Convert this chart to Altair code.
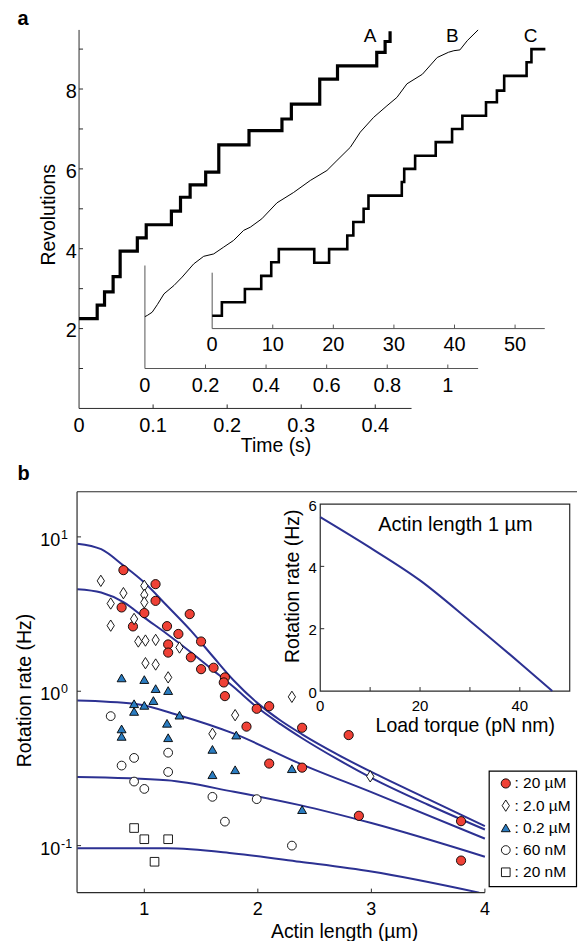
import altair as alt
import pandas as pd

FONT = "Liberation Sans"
AXC = "#2b2b2b"
GRY = "#555555"
NAVY = "#2c3192"
RED = "#ef4136"
BLUE = "#2b7cc0"
TICK_PX = 4

# ======================= panel a : revolutions vs time =======================
REV_DOMAIN = [0, 9.48]
A_X_DOMAIN = [0, 0.449]
B_X_DOMAIN = [0, 1.10]
C_X_DOMAIN = [0, 54.9]
PA_W, PA_H = 470, 379.3
RANGE_A = [2, 335.2]
RANGE_B = [68, 401.9]
RANGE_C = [135.4, 468.7]

A_T = [0.0, 0.0245, 0.0344, 0.046, 0.0555, 0.0787, 0.0907, 0.1247, 0.137, 0.150,
       0.171, 0.1887, 0.2295, 0.274, 0.2867, 0.325, 0.349, 0.402, 0.4133, 0.420]
A_REV = [2.25, 2.59, 2.92, 3.30, 3.94, 4.27, 4.60, 4.94, 5.29, 5.60,
         5.92, 6.60, 6.96, 7.25, 7.62, 8.25, 8.58, 8.92, 9.19, 9.45]

B_T = [0.0, 0.008, 0.024, 0.041, 0.063, 0.096, 0.123, 0.161, 0.194, 0.227, 0.26,
       0.293, 0.326, 0.348, 0.386, 0.436, 0.491, 0.546, 0.601, 0.634, 0.678, 0.711,
       0.755, 0.799, 0.832, 0.865, 0.916, 0.965, 1.002, 1.02, 1.04, 1.064, 1.10]
B_REV = [2.30, 2.33, 2.41, 2.60, 2.87, 3.08, 3.29, 3.62, 3.81, 3.87, 4.04,
         4.21, 4.46, 4.54, 4.75, 5.15, 5.41, 5.71, 5.96, 6.21, 6.54, 6.92,
         7.29, 7.58, 7.79, 8.13, 8.37, 8.79, 8.92, 8.96, 8.98, 9.21, 9.48]

C_T = [0, 1.6, 5.4, 8.1, 9.75, 11.0, 16.85, 19.3, 22.3, 23.3, 25.0, 25.8, 31.3,
       31.7, 33.5, 36.9, 39.6, 41.3, 45.2, 47.0, 48.2, 51.9, 52.7, 55.0]
C_REV = [2.32, 2.66, 2.99, 3.32, 3.66, 3.99, 3.65, 3.99, 4.33, 4.67, 5.0, 5.33, 5.67,
         6.0, 6.33, 6.67, 7.0, 7.33, 7.67, 7.96, 8.33, 8.67, 9.0, 9.0]

B_YAXIS = [1.0, 3.58]
C_YAXIS = [2.0, 3.40]

A_XTICKS = [0, 0.1, 0.2, 0.3, 0.4]
A_XLABELS = ["0", "0.1", "0.2", "0.3", "0.4"]
A_YTICKS = [1, 2, 3, 4, 5, 6, 7, 8, 9]
A_YLABEL_VALS = [2, 4, 6, 8]
A_YLABELS = ["2", "4", "6", "8"]
B_XTICKS = [0, 0.2, 0.4, 0.6, 0.8, 1]
B_XLABELS = ["0", "0.2", "0.4", "0.6", "0.8", "1"]
C_XTICKS = [0, 10, 20, 30, 40, 50]
C_XLABELS = ["0", "10", "20", "30", "40", "50"]

LETTERS = ["A", "B", "C"]
LETTER_T = [0.393, 1.0145, 52.54]
LETTER_REV = [9.33, 9.33, 9.33]

A_XTITLE = ("Time (s)", 0.266)          # text, position on time axis
A_YTITLE = ("Revolutions", 4.85)        # text, position on revolutions axis

# ================ panel b : rotation rate vs actin length ================
PB_W, PB_H = 501.0, 401.7
XB_DOMAIN = [0.4076, 0.4076 + PB_W / 113.77]
YB_DOMAIN = [0.0496, 19.6]
XB_AXIS_END = 4.0
B_XTICKS_P = [1, 2, 3, 4]
B_XLABELS_P = ["1", "2", "3", "4"]
B_YTICKS_P = [0.1, 1, 10]
B_YLABEL_BASE = ["10", "10", "10"]
B_YLABEL_EXP = ["-1", "0", "1"]
B_XTITLE = ("Actin length (\u00b5m)", 2.764)
B_YTITLE = ("Rotation rate (Hz)", 1.01)

SERIES = [": 20 \u00b5M", ": 2.0 \u00b5M", ": 0.2 \u00b5M", ": 60 nM", ": 20 nM"]
SHAPES = ["circle", "M0,-1.25L0.8,0L0,1.25L-0.8,0Z", "triangle-up", "circle", "square"]
FILLS = [RED, "white", BLUE, "white", "white"]
SIZES = [85, 75, 90, 85, 50]

R20_L = [0.816, 1.099, 1.099, 0.80, 1.0, 1.40, 0.90, 1.20, 1.30, 1.50, 1.21, 1.21, 1.41, 1.50,
         1.61, 1.71, 1.70, 1.71, 1.99, 2.10, 1.90, 2.10, 2.39, 2.39, 2.80, 2.89, 3.79, 3.79]
R20_V = [6.09, 4.94, 3.85, 3.49, 3.21, 3.16, 2.63, 2.64, 2.35, 2.10, 2.01, 1.78, 1.66, 1.39,
         1.42, 1.23, 1.14, 0.93, 0.77, 0.80, 0.59, 0.34, 0.58, 0.32, 0.52, 0.156, 0.144, 0.080]
D2_L = [0.617, 1.0, 0.816, 1.0, 0.704, 1.0, 0.704, 0.91, 0.947, 1.01, 1.10, 1.31, 1.01, 1.10,
        1.21, 2.30, 1.80, 1.60, 2.99]
D2_V = [5.19, 4.82, 4.32, 4.21, 3.70, 3.76, 2.66, 2.94, 2.10, 2.13, 2.15, 1.92, 1.52, 1.49,
        1.23, 0.92, 0.70, 0.53, 0.281]
T02_L = [0.80, 1.0, 1.10, 1.21, 1.08, 0.91, 1.0, 0.91, 1.31, 0.80, 0.80, 1.20, 1.21, 1.81,
         1.60, 1.60, 1.80, 2.30, 2.39]
T02_V = [1.22, 1.19, 1.04, 1.01, 0.87, 0.83, 0.81, 0.74, 0.70, 0.57, 0.51, 0.62, 0.50, 0.52,
         0.42, 0.288, 0.31, 0.315, 0.171]
C60_L = [0.704, 0.91, 0.80, 1.21, 1.21, 0.91, 1.0, 1.60, 1.99, 1.71, 2.30]
C60_V = [0.69, 0.37, 0.33, 0.40, 0.30, 0.26, 0.233, 0.207, 0.20, 0.143, 0.10]
S20_L = [0.91, 1.0, 1.21, 1.09]
S20_V = [0.130, 0.110, 0.110, 0.0786]

CUR1_L = [0.41, 0.62, 0.82, 1.0, 1.2, 1.41, 1.61, 1.79, 1.99, 2.2, 2.39, 2.7, 3.0, 3.5, 4.0]
CUR1_V = [9.04, 8.32, 6.49, 5.06, 3.58, 2.47, 1.66, 1.17, 0.847, 0.646, 0.526, 0.39, 0.30, 0.20, 0.1336]
CUR2_L = [0.41, 0.62, 0.82, 1.0, 1.2, 1.41, 1.61, 1.79, 1.99, 2.2, 2.39, 2.7, 3.0, 3.5, 4.0]
CUR2_V = [4.58, 4.36, 3.76, 3.0, 2.35, 1.79, 1.36, 1.06, 0.79, 0.612, 0.496, 0.363, 0.275, 0.184, 0.127]
CUR3_L = [0.41, 0.91, 1.31, 1.79, 2.37, 3.0, 4.0]
CUR3_V = [0.871, 0.829, 0.697, 0.531, 0.34, 0.222, 0.111]
CUR4_L = [0.41, 1.2, 1.79, 2.37, 3.0, 4.0]
CUR4_V = [0.278, 0.265, 0.223, 0.183, 0.140, 0.0847]
CUR5_L = [0.41, 1.2, 1.79, 2.37, 3.0, 3.95]
CUR5_V = [0.096, 0.096, 0.089, 0.0786, 0.068, 0.0496]

# inset
INS_X_DOMAIN = [0, 50]
INS_Y_DOMAIN = [0, 6]
INS_RANGE_X = [243.7, 493.7]
INS_RANGE_Y = [199.7, 12.3]
INS_XTICKS = [10, 20, 30, 40]
INS_XLABEL_VALS = [0, 20, 40]
INS_XLABELS = ["0", "20", "40"]
INS_YTICKS = [2, 4]
INS_YLABEL_VALS = [0, 2, 4, 6]
INS_YLABELS = ["0", "2", "4", "6"]
INS_TORQUE = [0, 10, 20, 30, 40, 46.5]
INS_RATE = [5.58, 4.6, 3.55, 2.25, 0.9, 0.0]
INS_TITLE = ("Actin length 1 \u00b5m", 27.1, 5.13)
INS_XTITLE = ("Load torque (pN nm)", 29.06)
INS_YTITLE = ("Rotation rate (Hz)", 3.36)

# legend box (own little coordinate system: column fraction / row index)
LEG_X_DOMAIN = [0, 1]
LEG_Y_DOMAIN = [-0.553, 4.647]
LEG_RANGE_X = [413, 500.5]
LEG_RANGE_Y = [280, 395.7]
LEG_ROWS = [0, 1, 2, 3, 4]
LEG_SYMBOL_X = 0.19
LEG_TEXT_X = 0.29

PANEL_LETTERS = ["a", "b"]


# ----------------------------- helpers -----------------------------
def hline(xs, ys, x, x2, y, color=AXC, width=1.0):
    df = pd.DataFrame({"x": x, "x2": x2, "y": y})
    return alt.Chart(df).mark_rule(color=color, strokeWidth=width).encode(
        x=alt.X("x:Q", scale=xs, axis=None), x2="x2:Q", y=alt.Y("y:Q", scale=ys, axis=None))


def vline(xs, ys, x, y, y2, color=AXC, width=1.0):
    df = pd.DataFrame({"x": x, "y": y, "y2": y2})
    return alt.Chart(df).mark_rule(color=color, strokeWidth=width).encode(
        x=alt.X("x:Q", scale=xs, axis=None), y=alt.Y("y:Q", scale=ys, axis=None), y2="y2:Q")


def texts(xs, ys, x, y, t, **kw):
    df = pd.DataFrame({"x": x, "y": y, "t": t})
    base = dict(font=FONT, color="black")
    base.update(kw)
    return alt.Chart(df).mark_text(**base).encode(
        x=alt.X("x:Q", scale=xs, axis=None), y=alt.Y("y:Q", scale=ys, axis=None), text="t:N")


# ============================== panel a ==============================
SY_A = alt.Scale(domain=REV_DOMAIN, nice=False, zero=False)
SX_A = alt.Scale(domain=A_X_DOMAIN, range=RANGE_A, nice=False, zero=False)
SX_B = alt.Scale(domain=B_X_DOMAIN, range=RANGE_B, nice=False, zero=False)
SX_C = alt.Scale(domain=C_X_DOMAIN, range=RANGE_C, nice=False, zero=False)
px_rev = PA_H / (REV_DOMAIN[1] - REV_DOMAIN[0])
px_s = (RANGE_A[1] - RANGE_A[0]) / (A_X_DOMAIN[1] - A_X_DOMAIN[0])
tick_rev = TICK_PX / px_rev
n = len

lineA = alt.Chart(pd.DataFrame({"t": A_T, "rev": A_REV})).mark_line(
    color="black", strokeWidth=3.2, interpolate="step-after").encode(
    x=alt.X("t:Q", scale=SX_A, axis=None), y=alt.Y("rev:Q", scale=SY_A, axis=None))
layerA = alt.layer(
    hline(SX_A, SY_A, [A_X_DOMAIN[0]], [A_X_DOMAIN[1]], [REV_DOMAIN[0]]),
    vline(SX_A, SY_A, [A_X_DOMAIN[0]], [REV_DOMAIN[0]], [REV_DOMAIN[1]]),
    vline(SX_A, SY_A, A_XTICKS[1:], [REV_DOMAIN[0]] * 4, [REV_DOMAIN[0] + tick_rev] * 4),
    hline(SX_A, SY_A, [A_X_DOMAIN[0]] * n(A_YTICKS), [A_X_DOMAIN[0] + TICK_PX / px_s] * n(A_YTICKS), A_YTICKS),
    texts(SX_A, SY_A, A_XTICKS, [REV_DOMAIN[0]] * n(A_XTICKS), A_XLABELS, fontSize=20,
          baseline="middle", align="center", dy=17.2),
    texts(SX_A, SY_A, [A_X_DOMAIN[0]] * n(A_YLABEL_VALS), A_YLABEL_VALS, A_YLABELS, fontSize=20,
          baseline="middle", align="right", dx=-2.3, dy=2.9),
    texts(SX_A, SY_A, [A_XTITLE[1]], [REV_DOMAIN[0]], [A_XTITLE[0]], fontSize=19.5,
          baseline="middle", align="center", dy=37.4),
    texts(SX_A, SY_A, [A_X_DOMAIN[0]], [A_YTITLE[1]], [A_YTITLE[0]], fontSize=19.5,
          baseline="middle", align="center", angle=270, dy=-30.5),
    texts(SX_A, SY_A, [A_X_DOMAIN[0]], [REV_DOMAIN[1]], PANEL_LETTERS[:1], fontSize=20, fontWeight="bold",
          baseline="alphabetic", align="left", dx=-61.6, dy=-5),
    lineA,
    texts(SX_A, SY_A, LETTER_T[:1], LETTER_REV[:1], LETTERS[:1], fontSize=19, baseline="middle"),
)

lineB = alt.Chart(pd.DataFrame({"t": B_T, "rev": B_REV})).mark_line(color="black", strokeWidth=1).encode(
    x=alt.X("t:Q", scale=SX_B, axis=None), y=alt.Y("rev:Q", scale=SY_A, axis=None))
layerB = alt.layer(
    vline(SX_B, SY_A, [B_X_DOMAIN[0]], [B_YAXIS[0]], [B_YAXIS[1]], GRY),
    hline(SX_B, SY_A, [B_X_DOMAIN[0]], [B_X_DOMAIN[1]], [B_YAXIS[0]], GRY),
    vline(SX_B, SY_A, B_XTICKS[1:], [B_YAXIS[0]] * 5, [B_YAXIS[0] + tick_rev] * 5, GRY),
    texts(SX_B, SY_A, B_XTICKS, [B_YAXIS[0]] * n(B_XTICKS), B_XLABELS, fontSize=20,
          baseline="middle", align="center", dy=17.1),
    lineB,
    texts(SX_B, SY_A, LETTER_T[1:2], LETTER_REV[1:2], LETTERS[1:2], fontSize=19, baseline="middle"),
)

lineC = alt.Chart(pd.DataFrame({"t": C_T, "rev": C_REV})).mark_line(
    color="black", strokeWidth=2.6, interpolate="step-after").encode(
    x=alt.X("t:Q", scale=SX_C, axis=None), y=alt.Y("rev:Q", scale=SY_A, axis=None))
layerC = alt.layer(
    vline(SX_C, SY_A, [C_X_DOMAIN[0]], [C_YAXIS[0]], [C_YAXIS[1]], GRY),
    hline(SX_C, SY_A, [C_X_DOMAIN[0]], [C_X_DOMAIN[1]], [C_YAXIS[0]], GRY),
    vline(SX_C, SY_A, C_XTICKS[1:], [C_YAXIS[0]] * 5, [C_YAXIS[0] + tick_rev] * 5, GRY),
    texts(SX_C, SY_A, C_XTICKS, [C_YAXIS[0]] * n(C_XTICKS), C_XLABELS, fontSize=20,
          baseline="middle", align="center", dy=16.9),
    lineC,
    texts(SX_C, SY_A, LETTER_T[2:], LETTER_REV[2:], LETTERS[2:], fontSize=19, baseline="middle"),
)

panel_a = alt.layer(layerA, layerB, layerC).resolve_scale(x="independent").properties(
    width=PA_W, height=PA_H)

# ============================== panel b ==============================
SX_P = alt.Scale(domain=XB_DOMAIN, nice=False, zero=False)
SY_P = alt.Scale(type="log", domain=YB_DOMAIN, nice=False)
px_L = PB_W / (XB_DOMAIN[1] - XB_DOMAIN[0])
px_dec = 154.8
SHAPE_S = alt.Scale(domain=SERIES, range=SHAPES)
FILL_S = alt.Scale(domain=SERIES, range=FILLS)
SIZE_S = alt.Scale(domain=SERIES, range=SIZES)

rows = []
for name, Ls, Vs in [(SERIES[0], R20_L, R20_V), (SERIES[1], D2_L, D2_V), (SERIES[2], T02_L, T02_V),
                     (SERIES[3], C60_L, C60_V), (SERIES[4], S20_L, S20_V)]:
    for L, v in zip(Ls, Vs):
        rows.append({"x": L, "y": v, "series": name})
df_pts = pd.DataFrame(rows)

crow = []
for i, (Ls, Vs) in enumerate([(CUR1_L, CUR1_V), (CUR2_L, CUR2_V), (CUR3_L, CUR3_V),
                              (CUR4_L, CUR4_V), (CUR5_L, CUR5_V)]):
    for L, v in zip(Ls, Vs):
        crow.append({"x": L, "y": v, "curve": i})
df_cur = pd.DataFrame(crow)

curves = alt.Chart(df_cur).mark_line(color=NAVY, strokeWidth=2, interpolate="monotone", clip=True).encode(
    x=alt.X("x:Q", scale=SX_P, axis=None), y=alt.Y("y:Q", scale=SY_P, axis=None), detail="curve:N")
points = alt.Chart(df_pts).mark_point(filled=True, stroke="black", strokeWidth=0.9, opacity=1,
                                      fillOpacity=1).encode(
    x=alt.X("x:Q", scale=SX_P, axis=None), y=alt.Y("y:Q", scale=SY_P, axis=None),
    shape=alt.Shape("series:N", scale=SHAPE_S, legend=None),
    fill=alt.Fill("series:N", scale=FILL_S, legend=None),
    size=alt.Size("series:N", scale=SIZE_S, legend=None))
ytick_hi = YB_DOMAIN[0] * 10 ** (TICK_PX / px_dec)
main_b = alt.layer(
    curves, points,
    vline(SX_P, SY_P, [XB_DOMAIN[0]], [YB_DOMAIN[0]], [YB_DOMAIN[1]], AXC, 1.2),
    hline(SX_P, SY_P, [XB_DOMAIN[0], XB_DOMAIN[0]], [XB_DOMAIN[1], XB_AXIS_END],
          [YB_DOMAIN[1], YB_DOMAIN[0]], AXC, 1.2),
    vline(SX_P, SY_P, B_XTICKS_P, [YB_DOMAIN[0]] * 4, [ytick_hi] * 4),
    hline(SX_P, SY_P, [XB_DOMAIN[0]] * 3, [XB_DOMAIN[0] + TICK_PX / px_L] * 3, B_YTICKS_P),
    texts(SX_P, SY_P, B_XTICKS_P, [YB_DOMAIN[0]] * 4, B_XLABELS_P, fontSize=18,
          baseline="middle", align="center", dy=17.1),
    texts(SX_P, SY_P, [XB_DOMAIN[0]] * 3, B_YTICKS_P, B_YLABEL_BASE, fontSize=18,
          baseline="middle", align="right", dx=-16.8, dy=4),
    texts(SX_P, SY_P, [XB_DOMAIN[0]] * 3, B_YTICKS_P, B_YLABEL_EXP, fontSize=12.5,
          baseline="middle", align="left", dx=-16, dy=-2),
    texts(SX_P, SY_P, [B_XTITLE[1]], [YB_DOMAIN[0]], [B_XTITLE[0]], fontSize=19.5,
          baseline="middle", align="center", dy=39),
    texts(SX_P, SY_P, [XB_DOMAIN[0]], [B_YTITLE[1]], [B_YTITLE[0]], fontSize=19.5,
          baseline="middle", align="center", angle=270, dy=-52.1),
    texts(SX_P, SY_P, [XB_DOMAIN[0]], [YB_DOMAIN[1]], PANEL_LETTERS[1:], fontSize=20, fontWeight="bold",
          baseline="alphabetic", align="left", dx=-59.6, dy=-12),
)

SX_I = alt.Scale(domain=INS_X_DOMAIN, range=INS_RANGE_X, nice=False, zero=False)
SY_I = alt.Scale(domain=INS_Y_DOMAIN, range=INS_RANGE_Y, nice=False, zero=False)
px_ix = (INS_RANGE_X[1] - INS_RANGE_X[0]) / (INS_X_DOMAIN[1] - INS_X_DOMAIN[0])
px_iy = (INS_RANGE_Y[0] - INS_RANGE_Y[1]) / (INS_Y_DOMAIN[1] - INS_Y_DOMAIN[0])

in_frame = alt.Chart(pd.DataFrame({"x": [INS_X_DOMAIN[0]], "x2": [INS_X_DOMAIN[1]],
                                   "y": [INS_Y_DOMAIN[0]], "y2": [INS_Y_DOMAIN[1]]})).mark_rect(
    fill="white", stroke=AXC, strokeWidth=1.2).encode(
    x=alt.X("x:Q", scale=SX_I, axis=None), x2="x2:Q", y=alt.Y("y:Q", scale=SY_I, axis=None), y2="y2:Q")
in_line = alt.Chart(pd.DataFrame({"x": INS_TORQUE, "y": INS_RATE})).mark_line(
    color=NAVY, strokeWidth=2, interpolate="monotone").encode(
    x=alt.X("x:Q", scale=SX_I, axis=None), y=alt.Y("y:Q", scale=SY_I, axis=None))
inset = alt.layer(
    in_frame,
    vline(SX_I, SY_I, INS_XTICKS, [INS_Y_DOMAIN[0]] * 4, [INS_Y_DOMAIN[0] + TICK_PX / px_iy] * 4),
    hline(SX_I, SY_I, [INS_X_DOMAIN[0]] * 2, [INS_X_DOMAIN[0] + TICK_PX / px_ix] * 2, INS_YTICKS),
    in_line,
    texts(SX_I, SY_I, [INS_TITLE[1]], [INS_TITLE[2]], [INS_TITLE[0]], fontSize=20,
          baseline="alphabetic", align="center"),
    texts(SX_I, SY_I, INS_XLABEL_VALS, [INS_Y_DOMAIN[0]] * 3, INS_XLABELS, fontSize=15,
          baseline="middle", align="center", dy=15.2),
    texts(SX_I, SY_I, [INS_X_DOMAIN[0]] * 4, INS_YLABEL_VALS, INS_YLABELS, fontSize=15,
          baseline="middle", align="right", dx=-3.3, dy=1.5),
    texts(SX_I, SY_I, [INS_XTITLE[1]], [INS_Y_DOMAIN[0]], [INS_XTITLE[0]], fontSize=19.5,
          baseline="middle", align="center", dy=35.2),
    texts(SX_I, SY_I, [INS_X_DOMAIN[0]], [INS_YTITLE[1]], [INS_YTITLE[0]], fontSize=19.5,
          baseline="middle", align="center", angle=270, dy=-27.5),
)

SX_L = alt.Scale(domain=LEG_X_DOMAIN, range=LEG_RANGE_X, nice=False, zero=False)
SY_L = alt.Scale(domain=LEG_Y_DOMAIN, range=LEG_RANGE_Y, nice=False, zero=False)
leg_box = alt.Chart(pd.DataFrame({"x": [LEG_X_DOMAIN[0]], "x2": [LEG_X_DOMAIN[1]],
                                  "y": [LEG_Y_DOMAIN[0]], "y2": [LEG_Y_DOMAIN[1]]})).mark_rect(
    fill="white", stroke="black", strokeWidth=1.2).encode(
    x=alt.X("x:Q", scale=SX_L, axis=None), x2="x2:Q", y=alt.Y("y:Q", scale=SY_L, axis=None), y2="y2:Q")
df_leg = pd.DataFrame({"x": [LEG_SYMBOL_X] * 5, "y": LEG_ROWS, "series": SERIES})
leg_sym = alt.Chart(df_leg).mark_point(filled=True, stroke="black", strokeWidth=0.9, opacity=1,
                                       fillOpacity=1).encode(
    x=alt.X("x:Q", scale=SX_L, axis=None), y=alt.Y("y:Q", scale=SY_L, axis=None),
    shape=alt.Shape("series:N", scale=SHAPE_S, legend=None),
    fill=alt.Fill("series:N", scale=FILL_S, legend=None),
    size=alt.Size("series:N", scale=SIZE_S, legend=None))
legend = alt.layer(
    leg_box, leg_sym,
    texts(SX_L, SY_L, [LEG_TEXT_X] * 5, LEG_ROWS, SERIES, fontSize=15.5, baseline="middle", align="left"),
)

panel_b = alt.layer(main_b, inset, legend).resolve_scale(x="independent", y="independent").properties(
    width=PB_W, height=PB_H)

chart = alt.vconcat(panel_a, panel_b, spacing=7.8).properties(
    padding={"left": 6.2, "top": 0, "right": 0, "bottom": 0}).configure_view(stroke=None)

chart.save("out.html", embed_options={"renderer": "svg", "actions": False})
